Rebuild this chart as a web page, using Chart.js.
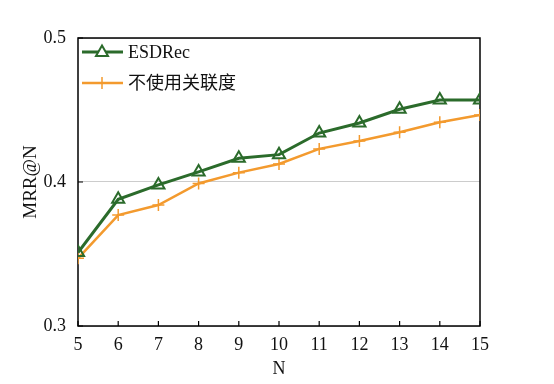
<!DOCTYPE html>
<html>
<head>
<meta charset="utf-8">
<script src="https://cdn.jsdelivr.net/npm/chart.js@4/dist/chart.umd.min.js"></script>
<style>
html,body{margin:0;padding:0;background:#fff;}
#wrap{width:554px;height:384px;position:relative;}
</style>
</head>
<body>
<div id="wrap"><canvas id="c" width="554" height="384"></canvas></div>
<script>
const categories = [5, 6, 7, 8, 9, 10, 11, 12, 13, 14, 15];
const esdrec = [0.351, 0.388, 0.398, 0.407, 0.4165, 0.419, 0.434, 0.441, 0.4505, 0.457, 0.457];
const noRelevance = [0.347, 0.377, 0.384, 0.399, 0.4065, 0.4125, 0.423, 0.4285, 0.4345, 0.4415, 0.4465];
const yTicks = [0.3, 0.4, 0.5];
const seriesNames = ['ESDRec', '不使用关联度'];

const GREEN = '#2b6b2b';
const ORANGE = '#f39a2e';
const SERIF = '"Liberation Serif","DejaVu Serif",serif';
const CJK = '"Liberation Serif","Noto Sans CJK SC",serif';

const frame = {
  id: 'frame',
  beforeDatasetsDraw(chart) {
    const {ctx, chartArea: a, scales: {x, y}} = chart;
    ctx.save();
    ctx.strokeStyle = '#000';
    ctx.lineWidth = 1.5;
    ctx.strokeRect(a.left, a.top, a.right - a.left, a.bottom - a.top);
    ctx.lineWidth = 1.2;
    ctx.beginPath();
    categories.forEach(c => {
      const px = x.getPixelForValue(c);
      ctx.moveTo(px, a.bottom);
      ctx.lineTo(px, a.bottom - 5);
    });
    yTicks.forEach(v => {
      const py = y.getPixelForValue(v);
      ctx.moveTo(a.left, py);
      ctx.lineTo(a.left + 5, py);
    });
    ctx.stroke();
    ctx.restore();
  },
  afterDraw(chart) {
    const {ctx} = chart;
    const items = [
      {name: seriesNames[0], color: GREEN, width: 3, marker: 'tri', y: 52, font: '18px ' + SERIF},
      {name: seriesNames[1], color: ORANGE, width: 2.5, marker: 'cross', y: 83, font: '18px ' + CJK}
    ];
    ctx.save();
    items.forEach(it => {
      ctx.strokeStyle = it.color;
      ctx.lineWidth = it.width;
      ctx.beginPath();
      ctx.moveTo(82, it.y);
      ctx.lineTo(123, it.y);
      ctx.stroke();
      const cx = 102, cy = it.y;
      ctx.lineWidth = it.marker === 'tri' ? 2 : 1.5;
      ctx.beginPath();
      if (it.marker === 'tri') {
        ctx.fillStyle = '#fff';
        ctx.moveTo(cx, cy - 6.5);
        ctx.lineTo(cx + 6, cy + 4);
        ctx.lineTo(cx - 6, cy + 4);
        ctx.closePath();
        ctx.fill();
        ctx.stroke();
      } else {
        ctx.moveTo(cx, cy - 6); ctx.lineTo(cx, cy + 6);
        ctx.moveTo(cx - 6, cy); ctx.lineTo(cx + 6, cy);
        ctx.stroke();
      }
      ctx.fillStyle = '#111';
      ctx.font = it.font;
      ctx.textBaseline = 'middle';
      ctx.textAlign = 'left';
      ctx.fillText(it.name, 128, it.y + 1);
    });
    ctx.restore();
  }
};

new Chart(document.getElementById('c'), {
  type: 'line',
  data: {
    datasets: [
      {
        label: seriesNames[0],
        data: categories.map((c, i) => ({x: c, y: esdrec[i]})),
        borderColor: GREEN,
        borderWidth: 3,
        pointStyle: 'triangle',
        pointRadius: 7,
        pointBorderWidth: 2,
        pointBackgroundColor: 'rgba(255,255,255,0)',
        pointBorderColor: GREEN,
        tension: 0
      },
      {
        label: seriesNames[1],
        data: categories.map((c, i) => ({x: c, y: noRelevance[i]})),
        borderColor: ORANGE,
        borderWidth: 2.5,
        pointStyle: 'cross',
        pointRadius: 6,
        pointBorderWidth: 1.5,
        pointBorderColor: ORANGE,
        tension: 0
      }
    ]
  },
  options: {
    responsive: false,
    animation: false,
    layout: {padding: {left: 0, top: 38, right: 74, bottom: 0}},
    plugins: {legend: {display: false}, tooltip: {enabled: false}},
    scales: {
      x: {
        type: 'linear',
        min: 5, max: 15,
        afterBuildTicks(s) { s.ticks = categories.map(v => ({value: v})); },
        afterFit(s) { s.height = 58; },
        grid: {display: false, drawTicks: false},
        border: {display: false},
        ticks: {color: '#111', font: {family: SERIF, size: 18}, padding: 8, maxRotation: 0, autoSkip: false},
        title: {display: true, text: 'N', color: '#111', font: {family: SERIF, size: 18}, padding: {top: 2, bottom: 4}}
      },
      y: {
        min: 0.3, max: 0.5,
        afterBuildTicks(s) { s.ticks = yTicks.map(v => ({value: v})); },
        afterFit(s) { s.width = 78; },
        grid: {color: '#cccccc', lineWidth: 1, drawTicks: false},
        border: {display: false},
        ticks: {color: '#111', font: {family: SERIF, size: 18}, padding: 12, callback: v => v.toFixed(1)},
        title: {display: true, text: 'MRR@N', color: '#111', font: {family: SERIF, size: 19}, padding: {top: 20, bottom: 0}}
      }
    }
  },
  plugins: [frame]
});
</script>
</body>
</html>
